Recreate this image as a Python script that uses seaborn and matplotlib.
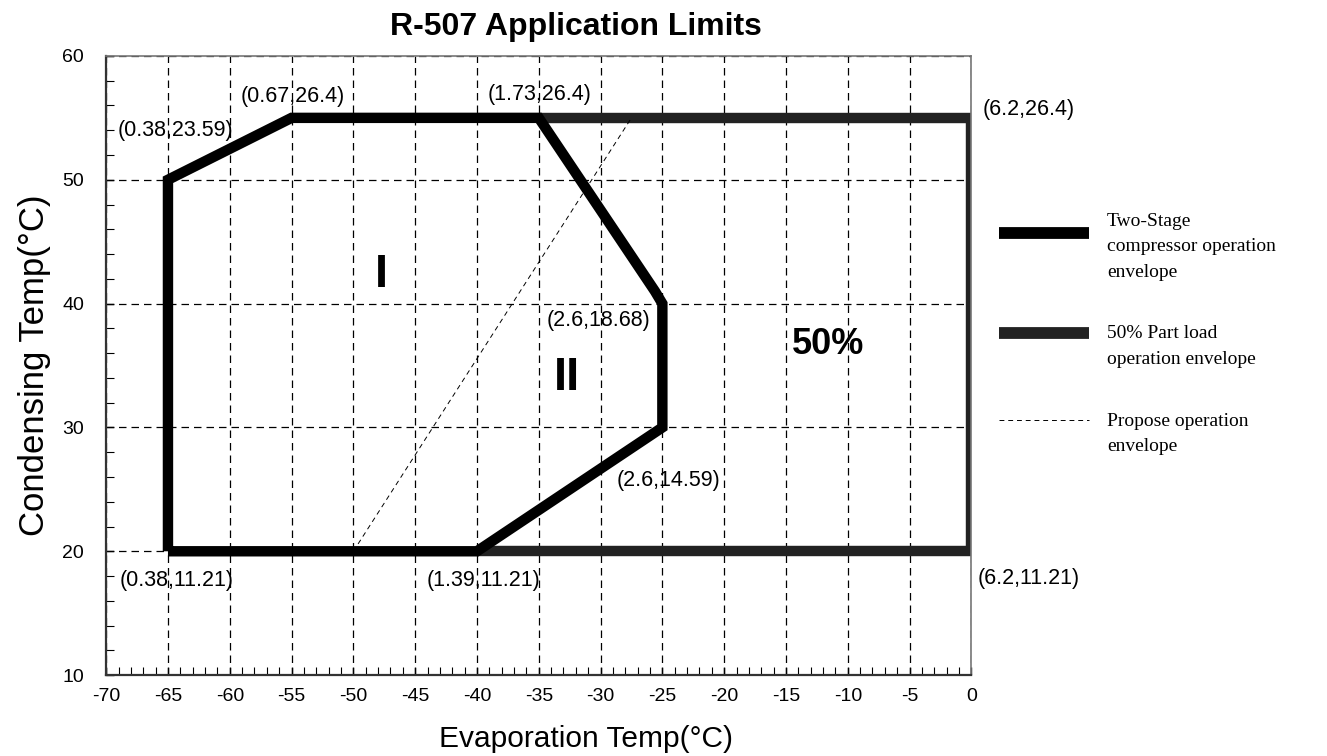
import matplotlib
matplotlib.use("Agg")
from matplotlib import pyplot as plt
from matplotlib.ticker import MultipleLocator
import seaborn as sns

# envelope outlines (evaporation temp, condensing temp)
two_stage_x = [-65, -65, -55, -35, -25.6, -25, -25, -40, -65]
two_stage_y = [20, 50, 55, 55, 41, 40, 30, 20, 20]
part_load_x = [-35, 0, 0, -40]
part_load_y = [55, 55, 20, 20]
propose_x = [-50, -27.5]
propose_y = [20, 55]

point_labels = ["(0.38,23.59)", "(0.67,26.4)", "(1.73,26.4)", "(6.2,26.4)",
                "(2.6,18.68)", "(2.6,14.59)", "(0.38,11.21)", "(1.39,11.21)",
                "(6.2,11.21)"]
label_x = [-69.1, -59.1, -39.1, 0.9, -34.4, -28.7, -68.9, -44.1, 0.5]
label_y = [54.0, 56.7, 56.9, 55.7, 38.6, 25.7, 17.6, 17.6, 17.8]

region_labels = ["I", "II", "50%"]
region_x = [-47.7, -32.7, -11.6]
region_y = [42.3, 34.0, 36.7]
region_size = [34, 34, 26]

legend_labels = ["Two-Stage\ncompressor operation\nenvelope",
                 "50% Part load\noperation envelope",
                 "Propose operation\nenvelope"]

sns.set_style("white")
plt.rcParams['font.family'] = ['Liberation Sans', 'DejaVu Sans']
plt.rcParams['axes.unicode_minus'] = False
plt.rcParams['text.color'] = 'black'
plt.rcParams['axes.labelcolor'] = 'black'

fig = plt.figure(figsize=(13.27, 7.56), dpi=100)
ax = fig.add_axes([0.08, 0.107, 0.652, 0.819])

sns.lineplot(x=part_load_x, y=part_load_y, sort=False, estimator=None,
             color='#222222', linewidth=7.5, ax=ax, label=legend_labels[1],
             solid_joinstyle='miter', solid_capstyle='butt')
sns.lineplot(x=two_stage_x, y=two_stage_y, sort=False, estimator=None,
             color='black', linewidth=7.5, ax=ax, label=legend_labels[0],
             solid_joinstyle='miter', solid_capstyle='butt')
sns.lineplot(x=propose_x, y=propose_y, sort=False, estimator=None,
             color='black', linewidth=0.7, linestyle=(0, (5, 4)), ax=ax,
             label=legend_labels[2])

ax.set_xlim(-70, 0)
ax.set_ylim(10, 60)
ax.xaxis.set_major_locator(MultipleLocator(5))
ax.xaxis.set_minor_locator(MultipleLocator(1))
ax.yaxis.set_major_locator(MultipleLocator(10))
ax.yaxis.set_minor_locator(MultipleLocator(2))
ax.grid(True, which='major', color='black', linestyle=(0, (6, 4)), linewidth=0.9)
ax.tick_params(which='both', direction='in', labelsize=14, colors='black',
               bottom=True, left=True, top=False, right=False)
ax.tick_params(which='major', length=6, width=1)
ax.tick_params(which='minor', length=6, width=0.8)
ax.tick_params(axis='x', which='both', pad=9)
ax.tick_params(axis='y', which='both', pad=16)

for side in ['left', 'bottom']:
    ax.spines[side].set_color('#333333')
    ax.spines[side].set_linewidth(1.6)
for side in ['top', 'right']:
    ax.spines[side].set_color('#777777')
    ax.spines[side].set_linewidth(1.2)

for txt, tx, ty in zip(point_labels, label_x, label_y):
    ax.text(tx, ty, txt, fontsize=15.5, ha='left', va='center', clip_on=False)
for txt, tx, ty, fs in zip(region_labels, region_x, region_y, region_size):
    ax.text(tx, ty, txt, fontsize=fs, fontweight='bold', ha='center', va='center')

ax.set_title('R-507 Application Limits', fontsize=23, fontweight='bold',
             color='black', pad=15, x=0.543)
ax.set_xlabel('Evaporation Temp(°C)', fontsize=21.5, labelpad=15)
ax.xaxis.set_label_coords(0.555, -0.08)
ax.xaxis.label.set_va('top')
ax.set_ylabel('Condensing Temp(°C)', fontsize=25, labelpad=8)

handles, labels = ax.get_legend_handles_labels()
order = [1, 0, 2]
leg = ax.legend([handles[i] for i in order], [labels[i] for i in order],
                loc='upper left', bbox_to_anchor=(1.012, 0.775), frameon=False,
                handlelength=4.6, handletextpad=0.93, labelspacing=2.3,
                prop={'family': 'Liberation Serif', 'size': 14})
for t in leg.get_texts():
    t.set_linespacing(1.65)
for h in leg.legend_handles[:2]:
    h.set_linewidth(8.5)
# legend lines sit a little above the centre of their text in the original
for h in leg.legend_handles:
    h.set_ydata([v + 9.5 for v in h.get_ydata()])

fig.savefig('out.png', dpi=100)
